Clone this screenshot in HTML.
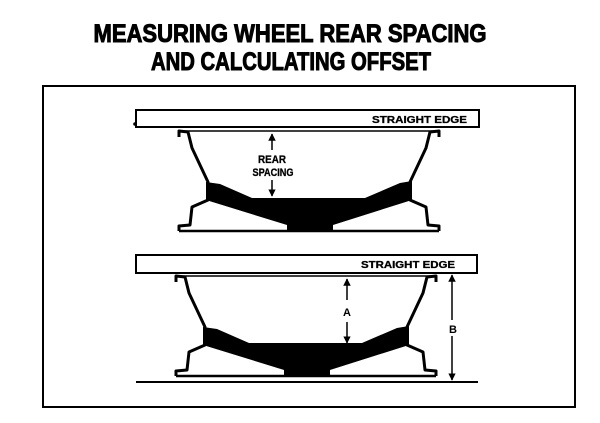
<!DOCTYPE html>
<html><head><meta charset="utf-8"><style>
html,body{margin:0;padding:0;background:#fff;}
svg{display:block;}
text{font-family:"Liberation Sans",sans-serif;font-weight:bold;fill:#000;}
</style></head><body>
<svg width="600" height="423" viewBox="0 0 600 423" xmlns="http://www.w3.org/2000/svg">
<defs>
<g id="wheel">
  <path d="M179,137 L179,131 L188,132 L192,148 L208,182 L208,200 L192,207 L190,225 L179,226 L179,231" fill="none" stroke="#000" stroke-width="3" stroke-linejoin="round"/>
  <path d="M439,137 L439,131 L430,132 L426,148 L410,182 L410,200 L426,207 L428,225 L439,226 L439,231" fill="none" stroke="#000" stroke-width="3" stroke-linejoin="round"/>
  <line x1="179" y1="131" x2="439" y2="131" stroke="#000" stroke-width="1.5"/>
  <line x1="179" y1="231" x2="439" y2="231" stroke="#000" stroke-width="2.5"/>
  <path d="M206,182 L220,184 L252,198 L365,198 L400,183 L412,181 L412,200 L333,225 L333,230 L287,230 L287,225 L206,200 Z" fill="#000"/>
</g>
<marker id="ah" viewBox="0 0 10 10" refX="9" refY="5" markerWidth="5" markerHeight="7" orient="auto-start-reverse"><path d="M0,0 L10,5 L0,10 Z" fill="#000"/></marker>
</defs>
<text x="290" y="42" font-size="25" text-anchor="middle" textLength="393" lengthAdjust="spacingAndGlyphs" stroke="#000" stroke-width="1">MEASURING WHEEL REAR SPACING</text>
<text x="291" y="70" font-size="25" text-anchor="middle" textLength="280" lengthAdjust="spacingAndGlyphs" stroke="#000" stroke-width="1">AND CALCULATING OFFSET</text>
<rect x="43" y="86" width="532" height="321" fill="none" stroke="#000" stroke-width="2"/>
<!-- top -->
<rect x="136" y="110" width="343" height="17" fill="#fff" stroke="#000" stroke-width="2"/>
<circle cx="135" cy="124" r="1.8" fill="#000"/>
<text x="372" y="123" font-size="10" textLength="95" lengthAdjust="spacingAndGlyphs" stroke="#000" stroke-width="0.3">STRAIGHT EDGE</text>
<use href="#wheel"/>
<line x1="272" y1="134" x2="272" y2="150" stroke="#000" stroke-width="1.5" marker-start="url(#ah)"/>
<line x1="272" y1="180" x2="272" y2="196" stroke="#000" stroke-width="1.5" marker-end="url(#ah)"/>
<text x="272" y="163" font-size="11" text-anchor="middle" textLength="28" lengthAdjust="spacingAndGlyphs" stroke="#000" stroke-width="0.3">REAR</text>
<text x="273" y="176" font-size="11" text-anchor="middle" textLength="41" lengthAdjust="spacingAndGlyphs" stroke="#000" stroke-width="0.3">SPACING</text>
<!-- bottom -->
<rect x="136" y="255" width="341" height="18" fill="#fff" stroke="#000" stroke-width="2"/>
<text x="361" y="268" font-size="10" textLength="94" lengthAdjust="spacingAndGlyphs" stroke="#000" stroke-width="0.3">STRAIGHT EDGE</text>
<g transform="translate(-3,145)"><use href="#wheel"/></g>
<line x1="136" y1="382" x2="478" y2="382" stroke="#000" stroke-width="2"/>
<line x1="347" y1="279" x2="347" y2="300" stroke="#000" stroke-width="1.5" marker-start="url(#ah)"/>
<line x1="347" y1="322" x2="347" y2="343" stroke="#000" stroke-width="1.5" marker-end="url(#ah)"/>
<text x="347" y="316" font-size="11" text-anchor="middle">A</text>
<line x1="452" y1="275" x2="452" y2="320" stroke="#000" stroke-width="1.5" marker-start="url(#ah)"/>
<line x1="452" y1="336" x2="452" y2="380" stroke="#000" stroke-width="1.5" marker-end="url(#ah)"/>
<text x="453" y="333" font-size="11" text-anchor="middle">B</text>
</svg>
</body></html>
